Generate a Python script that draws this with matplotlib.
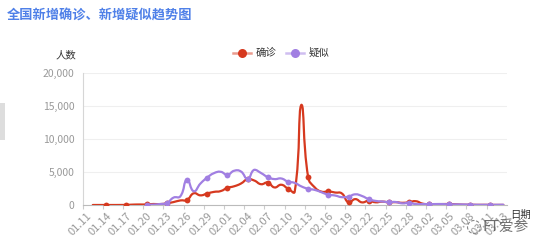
import numpy as np
import pandas as pd
import matplotlib
matplotlib.use("Agg")
import matplotlib.pyplot as plt
from matplotlib.path import Path
from matplotlib.patches import PathPatch, Rectangle, Ellipse
from matplotlib.lines import Line2D

plt.rcParams['font.family'] = ['Noto Sans CJK SC', 'DejaVu Sans']

# categories: 01.11 .. 03.13
dates = pd.date_range('2020-01-11', '2020-03-13').strftime('%m.%d').tolist()

# 新增确诊 (no value for 01.11)
confirmed = [None,
             0, 1, 0, 0, 4, 17, 59, 77, 77, 149, 131, 259, 444, 688, 769,
             1771, 1459, 1737, 1982, 2102, 2590, 2829, 3235, 3887, 3694, 3143,
             3399, 2656, 3062, 2478, 2015, 15152, 4200, 2641, 2009, 2048, 1886,
             1749, 394, 889, 397, 648, 409, 508, 406, 433, 327, 427, 573, 202,
             125, 119, 139, 143, 99, 44, 40, 19, 24, 15, 8, 11]

# 新增疑似 (starts 01.20)
suspected = [None] * 9 + [
             30, 60, 150, 300, 1118, 1309, 3806, 2077, 3248, 4148, 4812, 5019,
             4562, 5173, 5072, 3971, 5328, 4833, 4214, 3916, 4008, 3536, 3342,
             2807, 2450, 2277, 1918, 1563, 1432, 1185, 1277, 1614, 1361, 882,
             620, 530, 439, 452, 248, 335, 132, 141, 129, 143, 143, 102, 99, 84,
             60, 36, 31, 33, 33, 45]

RED = '#d6391f'
PURPLE = '#a17fe2'


def smooth_path(ax, xs, ys, smooth=0.5):
    # echarts-like smoothing, computed in pixel space
    pts = ax.transData.transform(np.column_stack([xs, ys]))
    lo, hi = pts.min(axis=0), pts.max(axis=0)
    n = len(pts)
    cps = []
    for i in range(n):
        p = pts[i]
        if i == 0 or i == n - 1:
            cps.append((p, p))
            continue
        prev, nxt = pts[i - 1], pts[i + 1]
        v = nxt - prev
        d0 = np.hypot(*(p - prev))
        d1 = np.hypot(*(nxt - p))
        s = d0 + d1
        if s:
            d0, d1 = d0 / s, d1 / s
        c0 = np.clip(p - v * d0 * smooth, lo, hi)
        c1 = np.clip(p + v * d1 * smooth, lo, hi)
        cps.append((c0, c1))
    verts = [pts[0]]
    codes = [Path.MOVETO]
    for i in range(n - 1):
        verts += [cps[i][1], cps[i + 1][0], pts[i + 1]]
        codes += [Path.CURVE4] * 3
    return Path(ax.transData.inverted().transform(np.array(verts)), codes)


fig = plt.figure(figsize=(5.54, 2.52), dpi=100)
ax = fig.add_axes([82.7 / 554, 47 / 252, 424 / 554, 132.3 / 252])
ax.set_xlim(-0.5, len(dates) - 0.5)
ax.set_ylim(0, 20000)

for vals, color, z in [(confirmed, RED, 3), (suspected, PURPLE, 4)]:
    idx = np.array([i for i, v in enumerate(vals) if v is not None])
    yv = np.array([vals[i] for i in idx], dtype=float)
    path = smooth_path(ax, idx, yv)
    ax.add_patch(PathPatch(path, fill=False, edgecolor=color, lw=1.6, zorder=z,
                           capstyle='round', joinstyle='round'))
    m = idx % 3 == 0
    ax.plot(idx[m], yv[m], 'o', ms=4.2, color=color, zorder=z + 0.5, mec='none')

ax.set_yticks([0, 5000, 10000, 15000, 20000])
ax.set_yticklabels(['0', '5,000', '10,000', '15,000', '20,000'])
ax.tick_params(axis='y', length=0, pad=6, labelsize=7.5, labelcolor='#999999')
ax.grid(axis='y', color='#efefef', lw=0.8)
ax.set_axisbelow(True)

tick_idx = list(range(0, len(dates), 3)) + [len(dates) - 1]
ax.set_xticks(tick_idx)
ax.set_xticklabels([dates[i] for i in tick_idx], rotation=45, ha='right',
                   rotation_mode='anchor')
ax.tick_params(axis='x', length=0, pad=4, labelsize=8, labelcolor='#999999')
ax.set_xticks([i - 0.5 for i in range(0, len(dates), 3)], minor=True)
ax.tick_params(axis='x', which='minor', length=3, color='#cccccc', width=0.8)

for side in ['top', 'right']:
    ax.spines[side].set_visible(False)
ax.spines['left'].set_color('#d6d6d6')
ax.spines['bottom'].set_color('#bbbbbb')
ax.spines['left'].set_linewidth(0.8)
ax.spines['bottom'].set_linewidth(0.8)

# title and axis names
fig.text(7 / 554, 1 - 16 / 252, '全国新增确诊、新增疑似趋势图', fontsize=9.5,
         fontweight='bold', color='#4f80e8', va='center', ha='left')
fig.text(66 / 554, 1 - 55 / 252, '人数', fontsize=7.5, color='#333333',
         va='center', ha='center')
fig.text(521 / 554, 1 - 215 / 252, '日期', fontsize=7.5, color='#333333',
         va='center', ha='center')

# legend
ly = 1 - 52.7 / 252
for cx, color, label in [(242, RED, '确诊'), (295, PURPLE, '疑似')]:
    fig.add_artist(Line2D([(cx - 9) / 554, (cx + 9) / 554], [ly, ly],
                          color=color, lw=1.8, alpha=0.5))
    fig.add_artist(Line2D([cx / 554], [ly], marker='o', ms=6.5, color=color,
                          mec='none'))
    fig.text((cx + 14) / 554, ly, label, fontsize=7.5, color='#333333',
             va='center', ha='left')

# left grey handle
fig.add_artist(Rectangle((0, 1 - 140 / 252), 5 / 554, 37 / 252,
                         transform=fig.transFigure, color='#dddddd', lw=0))

# watermark
fig.add_artist(Ellipse((474 / 554, 1 - 227 / 252), 13 / 554, 13 / 252,
                       transform=fig.transFigure, fill=False, ec='#888888',
                       lw=0.8, ls=(0, (3, 1.5))))
fig.text(483 / 554, 1 - 227 / 252, 'FT爱参', fontsize=10.5, color='#555555',
         va='center', ha='left', alpha=0.85)

fig.savefig('out.png', dpi=100)
